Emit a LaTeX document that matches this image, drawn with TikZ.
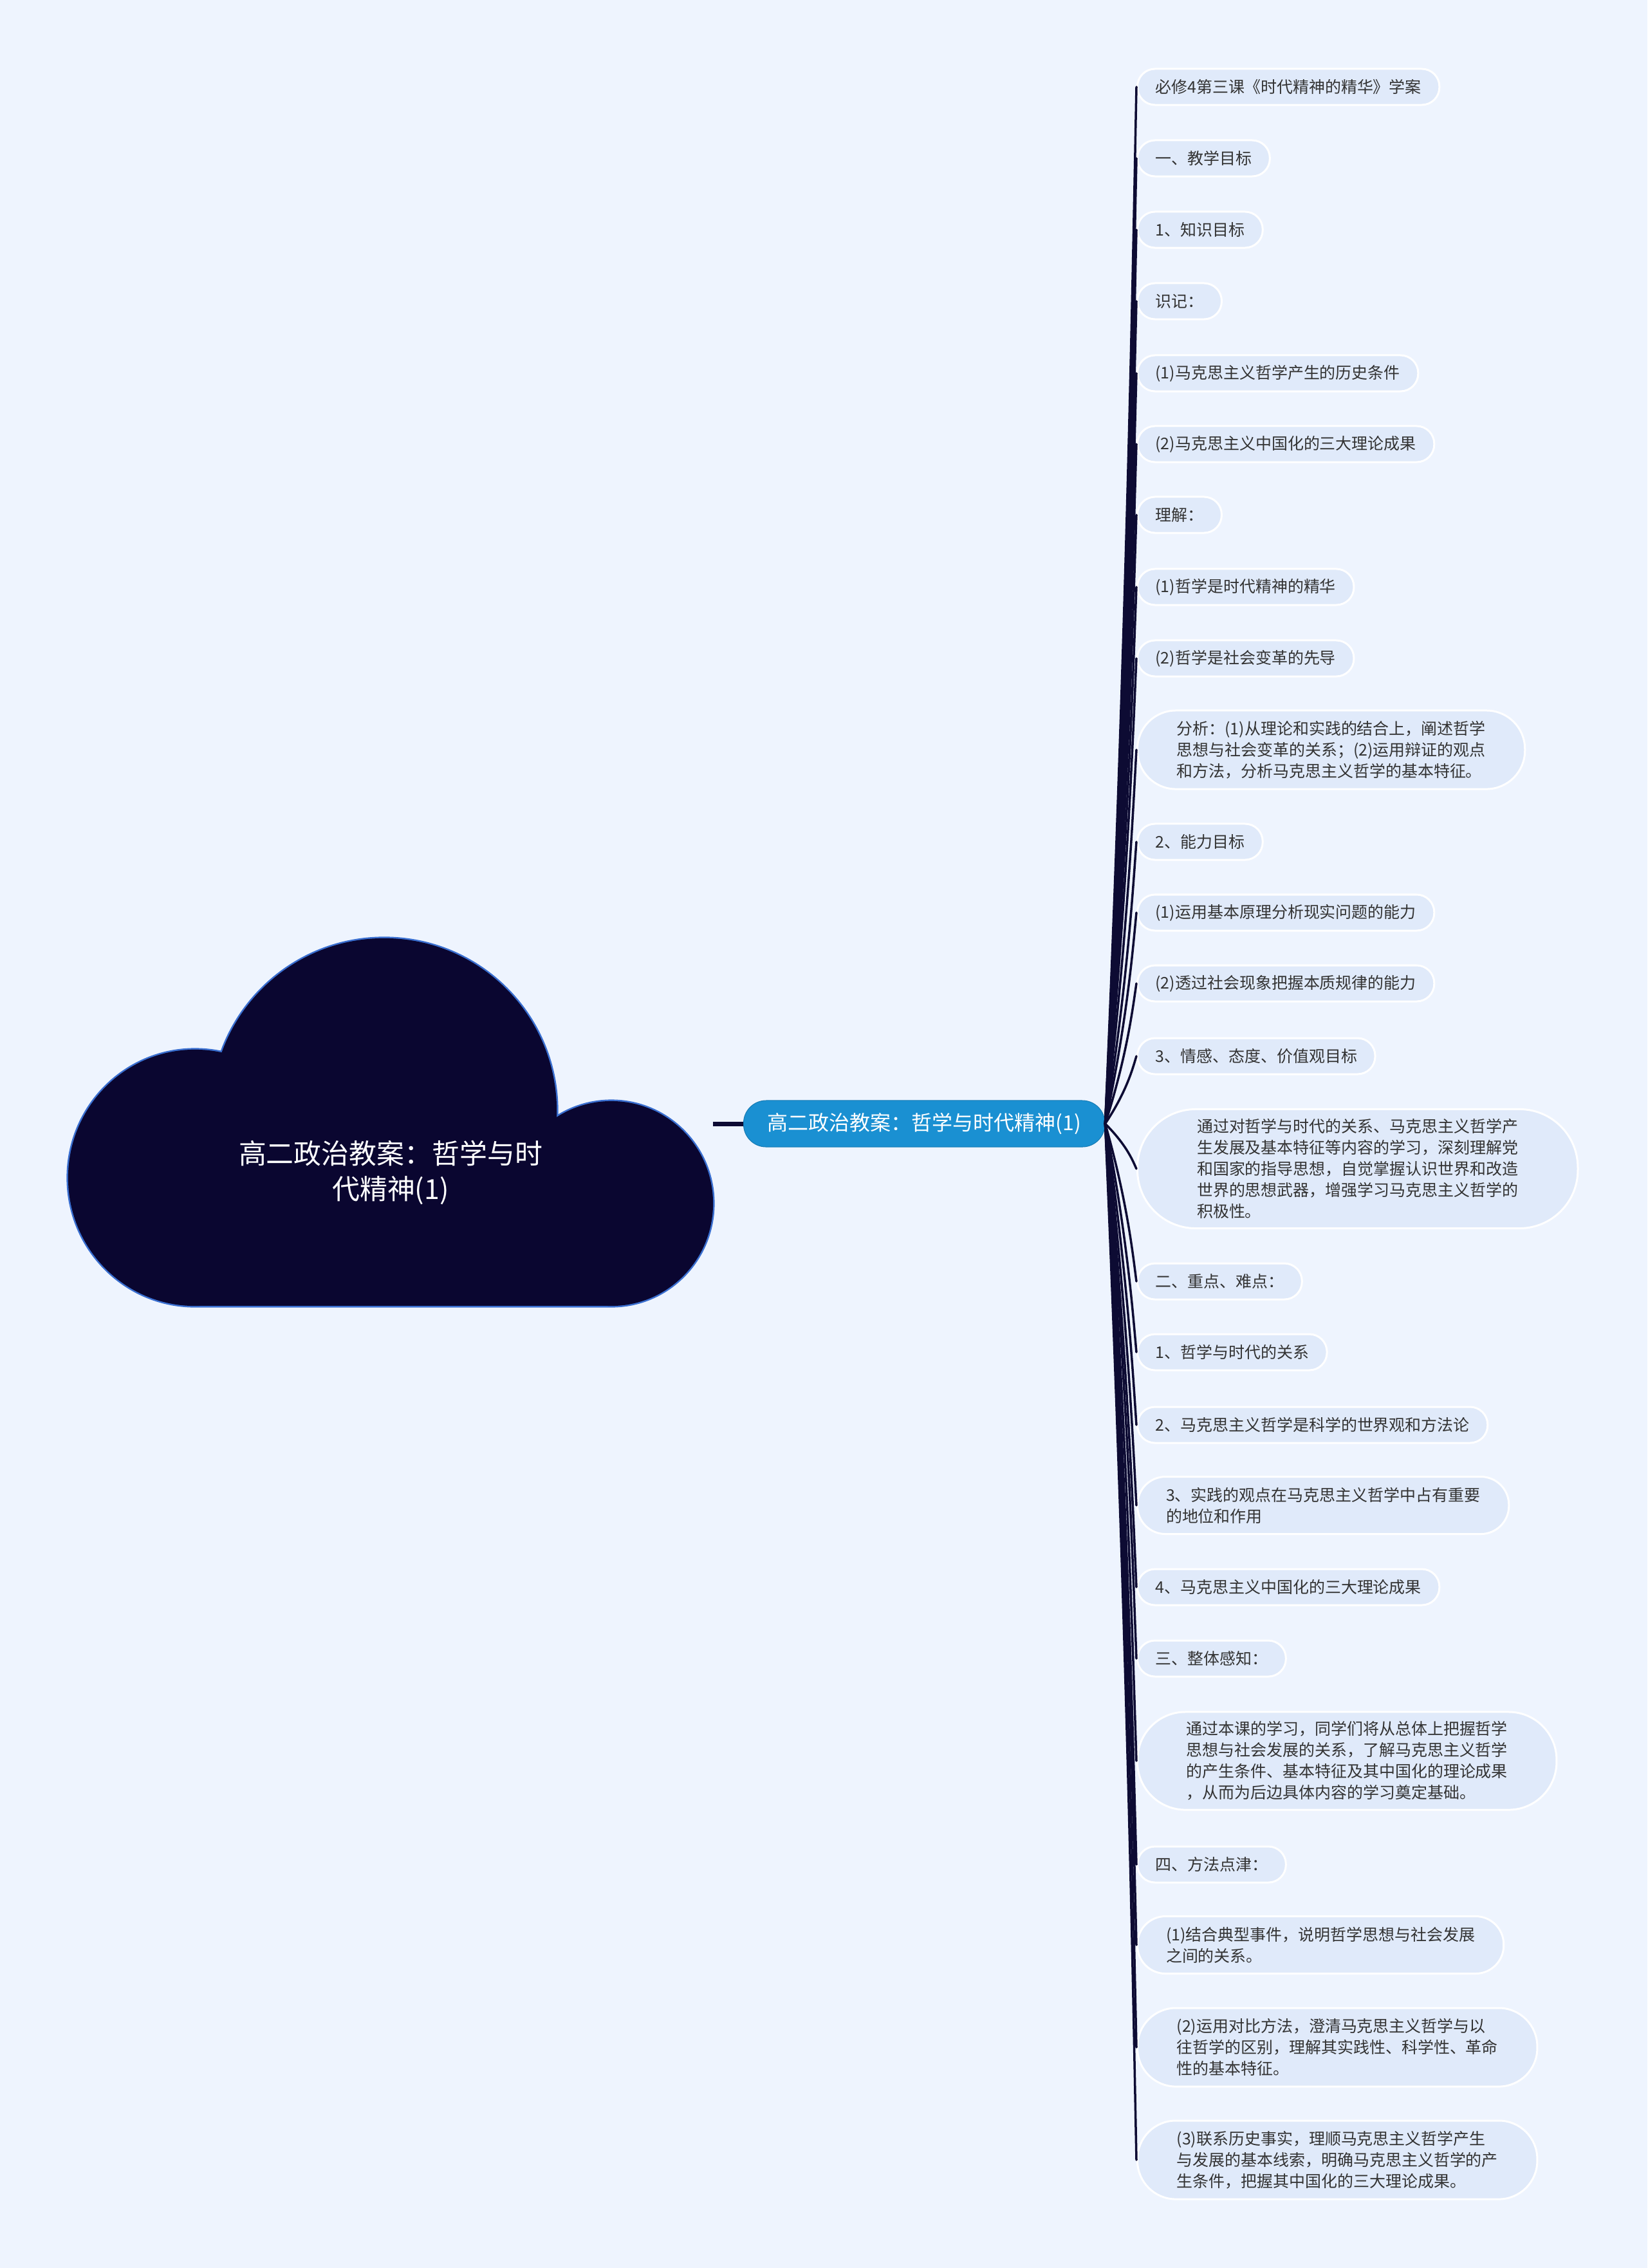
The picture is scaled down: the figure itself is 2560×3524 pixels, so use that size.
\documentclass[tikz,border=0pt]{standalone}
\usepackage{fontspec}
\setmainfont{Noto Sans CJK SC}
\usetikzlibrary{calc}
\definecolor{mmpage}{HTML}{EEF4FE}
\definecolor{mmleaf}{HTML}{E0EAFA}
\definecolor{mmink}{HTML}{333333}
\definecolor{mmhub}{HTML}{1A90D2}
\definecolor{mmcloud}{HTML}{0A0630}
\definecolor{mmrim}{HTML}{3A6FD0}
\definecolor{mmwire}{HTML}{0D0B33}
\newcommand\leafsize{\fontsize{7.1pt}{9.4pt}\selectfont}
\newcommand\hubsize{\fontsize{9.1pt}{11pt}\selectfont}
\newcommand\cloudsize{\fontsize{12.2pt}{15.9pt}\selectfont}
\tikzset{
  leaf/.style={draw=white,line width=0.03cm,fill=mmleaf,text=mmink,font=\leafsize,
    align=left,anchor=west,inner ysep=0pt,minimum height=#1cm,
    inner xsep=#1*0.5cm,rounded corners=#1*0.49cm},
  hub/.style={fill=mmhub,draw=mmhub!85!black,line width=0.01cm,text=white,font=\hubsize,
    anchor=west,minimum height=0.72cm,inner xsep=0.37cm,rounded corners=0.35cm},
  wire/.style={draw=mmwire,line width=0.035cm,line cap=round},
}

\begin{document}
\begin{tikzpicture}[x=0.01cm,y=-0.01cm]
  \fill[mmpage] (0,0) rectangle (2560,3524);
  % cloud: rim first, then the body over it
  \draw[mmrim,line width=0.05cm] (303,1830) ellipse (1.97cm and 1.99cm) (597,1726) circle (2.68cm)
    (950,1870) ellipse (1.58cm and 1.59cm) (303,1830) rectangle (950,2029);
  \fill[mmcloud] (303,1830) ellipse (1.97cm and 1.99cm);
  \fill[mmcloud] (597,1726) circle (2.68cm);
  \fill[mmcloud] (950,1870) ellipse (1.58cm and 1.59cm);
  \fill[mmcloud] (303,1830) rectangle (950,2029);
  \node[text=white,font=\cloudsize,align=center] (title) at (607,1822) {高二政治教案：哲学与时\\代精神(1)};
  \coordinate (tip) at (1108,1746);

  \node[hub] (hub) at (1155,1746) {高二政治教案：哲学与时代精神(1)};
  \draw[mmwire,line width=0.07cm] (tip) -- (hub.west);

  \foreach \i/\y/\h/\txt in {
    1/135/0.56/{必修4第三课《时代精神的精华》学案},
    2/246/0.56/{一、教学目标},
    3/357/0.56/{1、知识目标},
    4/468/0.56/{识记：},
    5/580/0.56/{(1)马克思主义哲学产生的历史条件},
    6/690/0.56/{(2)马克思主义中国化的三大理论成果},
    7/800/0.56/{理解：},
    8/912/0.56/{(1)哲学是时代精神的精华},
    9/1023/0.56/{(2)哲学是社会变革的先导},
    10/1165/1.22/{分析：(1)从理论和实践的结合上，阐述哲学\\思想与社会变革的关系；(2)运用辩证的观点\\和方法，分析马克思主义哲学的基本特征。},
    11/1308/0.56/{2、能力目标},
    12/1418/0.56/{(1)运用基本原理分析现实问题的能力},
    13/1528/0.56/{(2)透过社会现象把握本质规律的能力},
    14/1641/0.56/{3、情感、态度、价值观目标},
    15/1816/1.85/{通过对哲学与时代的关系、马克思主义哲学产\\生发展及基本特征等内容的学习，深刻理解党\\和国家的指导思想，自觉掌握认识世界和改造\\世界的思想武器，增强学习马克思主义哲学的\\积极性。},
    16/1991/0.56/{二、重点、难点：},
    17/2101/0.56/{1、哲学与时代的关系},
    18/2214/0.56/{2、马克思主义哲学是科学的世界观和方法论},
    19/2339/0.89/{3、实践的观点在马克思主义哲学中占有重要\\的地位和作用},
    20/2466/0.56/{4、马克思主义中国化的三大理论成果},
    21/2577/0.56/{三、整体感知：},
    22/2736/1.52/{通过本课的学习，同学们将从总体上把握哲学\\思想与社会发展的关系，了解马克思主义哲学\\的产生条件、基本特征及其中国化的理论成果\\，从而为后边具体内容的学习奠定基础。},
    23/2897/0.56/{四、方法点津：},
    24/3022/0.89/{(1)结合典型事件，说明哲学思想与社会发展\\之间的关系。},
    25/3181/1.22/{(2)运用对比方法，澄清马克思主义哲学与以\\往哲学的区别，理解其实践性、科学性、革命\\性的基本特征。},
    26/3356/1.22/{(3)联系历史事实，理顺马克思主义哲学产生\\与发展的基本线索，明确马克思主义哲学的产\\生条件，把握其中国化的三大理论成果。}}
    {\node[leaf=\h] (l\i) at (1766,\y) {\txt};}

  \foreach \i in {1,...,26}
    \draw[wire] let \p1=(hub.east), \p2=(l\i.west) in
      (\p1) .. controls ({\x1+0.35cm},{0.5*\y1+0.5*\y2}) and ({\x2-0.05cm},{\y2-0.15*(\y2-\y1)}) .. (\p2);
\end{tikzpicture}
\end{document}
